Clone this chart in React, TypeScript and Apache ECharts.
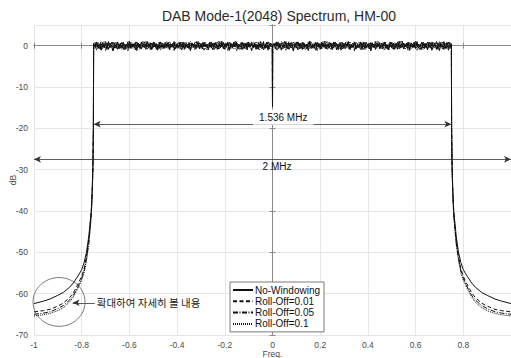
import React, { useEffect, useRef } from "react";
import * as echarts from "echarts";

const titleText = "DAB Mode-1(2048) Spectrum, HM-00";
const seriesNames = ["No-Windowing", "Roll-Off=0.01", "Roll-Off=0.05", "Roll-Off=0.1"];
const bandEdge = 0.75;
const freqStep = 0.00625;
const dcNull = -14.7;
const dcShoulder = 0.1;

// in-band noisy top, left half (from -0.75) and right half (up to +0.75), dB
const topLeft = [
  0.6, -0.4, 0.9, -0.7, 0.3, -1.1, 0.8, -0.2, 0.5, -0.9, 1.0, -0.5, 0.2, -1.3, 0.7, -0.3, 0.9, -0.8, 0.4, -0.6,
  0.8, -1.0, 0.3, -0.4, 1.1, -0.7, 0.5, -0.2, 0.7, -1.2, 0.6, -0.5, 0.9, -0.3, 0.2, -0.9, 1.0, -0.6, 0.4, -0.8,
  0.7, -0.3, 0.5, -1.1, 0.9, -0.4, 0.3, -0.7, 0.8, -0.5, 0.6, -1.0, 0.4, -0.2, 1.0, -0.8, 0.5, -0.6, 0.7, -0.3,
  0.9, -0.9, 0.2, -0.5, 0.8, -1.2, 0.6, -0.4, 0.3, -0.7, 1.0, -0.5, 0.5, -0.8, 0.7, -0.2, 0.4, -1.0, 0.9, -0.6,
  0.6, -0.3, 0.8, -0.9, 0.3, -0.5, 1.1, -0.7, 0.5, -0.4, 0.7, -1.1, 0.4, -0.6, 0.9, -0.2, 0.6, -0.8, 0.3, -0.5,
  0.8, -0.7, 0.5, -1.0, 0.9, -0.3, 0.4, -0.6, 0.7, -0.9, 0.2, -0.4, 1.0, -0.8, 0.6, -0.5, 0.8, -1.1, 0.5, -0.3,
];
const topRight = [
  0.4, -0.8, 0.9, -0.3, 0.6, -1.0, 0.2, -0.5, 1.0, -0.7, 0.5, -0.2, 0.8, -1.1, 0.3, -0.6, 0.9, -0.4, 0.6, -0.9,
  0.7, -0.2, 0.4, -1.2, 1.0, -0.5, 0.3, -0.7, 0.8, -0.3, 0.5, -0.9, 0.6, -0.4, 1.1, -0.8, 0.2, -0.6, 0.7, -1.0,
  0.9, -0.3, 0.5, -0.7, 0.3, -1.1, 0.8, -0.4, 0.6, -0.2, 1.0, -0.9, 0.4, -0.5, 0.7, -0.8, 0.2, -0.3, 0.9, -1.0,
  0.5, -0.6, 0.8, -0.2, 0.3, -1.2, 0.7, -0.5, 1.0, -0.4, 0.4, -0.8, 0.6, -0.3, 0.9, -0.7, 0.2, -1.0, 0.8, -0.5,
  0.6, -0.9, 0.4, -0.2, 1.1, -0.6, 0.5, -0.8, 0.3, -0.4, 0.9, -1.1, 0.7, -0.3, 0.5, -0.7, 1.0, -0.5, 0.2, -0.9,
  0.8, -0.4, 0.6, -1.0, 0.3, -0.6, 0.9, -0.2, 0.5, -0.8, 0.7, -1.2, 0.4, -0.3, 1.0, -0.7, 0.6, -0.5, 0.8, 0.4,
];

// out-of-band skirts: distance beyond band edge (freq units) and level (dB)
const skirtOffset = [0, 0.001, 0.003, 0.006, 0.01, 0.02, 0.03, 0.04, 0.05, 0.06, 0.07, 0.085, 0.1, 0.127, 0.15, 0.183, 0.21, 0.25];
const skirtNoWin = [0, -20, -29, -35, -40, -46, -50, -52.5, -54.2, -55.2, -56.1, -57.4, -58.4, -59.7, -60.4, -61.3, -61.8, -62.4];
const skirtRoll001 = [0, -20, -29, -35.5, -40.5, -47, -51, -54, -55.8, -57, -58.2, -59.8, -60.9, -62.3, -63, -63.8, -64.1, -64.4];
const skirtRoll005 = [0, -20, -29.5, -36, -41, -47.5, -51.5, -54.5, -56.3, -57.6, -58.8, -60.4, -61.5, -62.9, -63.6, -64.4, -64.7, -65.0];
const skirtRoll01 = [0, -20, -30, -36.5, -41.5, -48, -52, -55, -56.7, -58, -59.2, -60.8, -62, -63.4, -64.1, -64.8, -65.1, -65.4];

const xTicks = [-1, -0.8, -0.6, -0.4, -0.2, 0, 0.2, 0.4, 0.6, 0.8, 1];
const yTicks = [-70, -60, -50, -40, -30, -20, -10, 0];

const FONT = "'Liberation Sans', Arial, Helvetica, sans-serif";
const LINE = "#111";

function leftSkirt(levels: number[], includeEdge: boolean) {
  const pts: any[] = [];
  for (let i = levels.length - 1; i >= (includeEdge ? 0 : 1); i--) {
    pts.push([-(bandEdge + skirtOffset[i]), levels[i]]);
  }
  return pts;
}
function rightSkirt(levels: number[], includeEdge: boolean) {
  const pts: any[] = [];
  for (let i = includeEdge ? 0 : 1; i < levels.length; i++) {
    pts.push([bandEdge + skirtOffset[i], levels[i]]);
  }
  return pts;
}

function bandData(levels: number[], left: number[], right: number[]) {
  const pts: any[] = leftSkirt(levels, false);
  left.forEach((v, i) => pts.push([-bandEdge + i * freqStep, v]));
  pts.push([-0.0008, dcShoulder]);
  pts.push([0, dcNull]);
  pts.push([0.0008, dcShoulder]);
  right.forEach((v, i) => pts.push([(i + 1) * freqStep, v]));
  return pts.concat(rightSkirt(levels, false));
}

export default function App() {
  const ref = useRef<HTMLDivElement>(null);
  useEffect(() => {
    if (!ref.current) return;
    const chart = echarts.init(ref.current, null, { renderer: "svg" });
    const xMin = xTicks[0], xMax = xTicks[xTicks.length - 1];
    const yMin = yTicks[0], yMax = 5;
    const axisCommon = {
      axisLine: { show: true, lineStyle: { color: "#8a8a8a", width: 1 } },
      axisTick: { show: true, inside: true, length: 3, lineStyle: { color: "#8a8a8a" } },
    };
    const mkStyle = (type: any) => ({ color: LINE, width: 1, type });
    const revL = topLeft.slice().reverse();
    const revR = topRight.slice().reverse();
    chart.setOption({
      animation: false,
      backgroundColor: "#fff",
      title: {
        text: titleText,
        left: 274,
        textAlign: "center",
        top: 4,
        textStyle: { fontFamily: FONT, fontSize: 14, fontWeight: "normal", color: "#2b2b2b" },
      },
      legend: {
        orient: "vertical",
        left: 230,
        top: 282,
        padding: [3, 4, 3, 2],
        itemGap: 1.3,
        itemWidth: 20,
        itemHeight: 10,
        borderColor: "#7a7a7a",
        borderWidth: 1,
        backgroundColor: "#fff",
        itemStyle: { opacity: 0, borderWidth: 0 },
        textStyle: { fontFamily: FONT, fontSize: 10, color: "#111", padding: [0, 0, 0, -3] },
        data: seriesNames,
      },
      grid: { left: 34, right: 0, top: 25, bottom: 23, containLabel: false, outerBoundsMode: "none" },
      xAxis: [
        {
          type: "value",
          min: xMin,
          max: xMax,
          interval: 0.2,
          ...axisCommon,
          splitLine: { show: true, lineStyle: { color: "#e6e6e6", width: 1 } },
          axisLabel: {
            fontFamily: FONT,
            fontSize: 8.5,
            color: "#4a4a4a",
            margin: 5,
            showMaxLabel: false,
            formatter: (v: number) => String(Math.round(v * 10) / 10),
          },
          name: "Freq.",
          nameLocation: "middle",
          nameGap: 14,
          nameMoveOverlap: false,
          nameTextStyle: { fontFamily: FONT, fontSize: 8.5, color: "#4a4a4a" },
        },
        {
          type: "value",
          position: "top",
          min: xMin,
          max: xMax,
          interval: 0.2,
          ...axisCommon,
          splitLine: { show: false },
          axisLabel: { show: false },
        },
      ],
      yAxis: [
        {
          type: "value",
          min: yMin,
          max: yMax,
          interval: 10,
          ...axisCommon,
          splitLine: { show: true, lineStyle: { color: "#e6e6e6", width: 1 } },
          axisLabel: {
            fontFamily: FONT,
            fontSize: 8.5,
            color: "#4a4a4a",
            margin: 6,
            formatter: (v: number) => (v > 0 ? "" : String(v)),
          },
          name: "dB",
          nameLocation: "middle",
          nameGap: 17,
          nameMoveOverlap: false,
          nameTextStyle: { fontFamily: FONT, fontSize: 8.5, color: "#4a4a4a" },
        },
        {
          type: "value",
          position: "right",
          min: yMin,
          max: yMax,
          interval: 10,
          ...axisCommon,
          splitLine: { show: false },
          axisLabel: { show: false },
        },
      ],
      series: [
        {
          name: seriesNames[0],
          type: "line",
          data: bandData(skirtNoWin, topLeft, topRight),
          showSymbol: false,
          symbol: "none",
          lineStyle: mkStyle("solid"),
          itemStyle: { color: LINE },
          z: 5,
          markLine: {
            silent: true,
            animation: false,
            symbolSize: [5, 7],
            lineStyle: { color: "#333", width: 0.8, type: "solid" },
            label: { show: false },
            data: [
              [
                { coord: [-bandEdge, -19], symbol: "arrow" },
                { coord: [bandEdge, -19], symbol: "arrow" },
              ],
              [
                { coord: [xMin, -27.5], symbol: "arrow" },
                { coord: [xMax, -27.5], symbol: "arrow" },
              ],
              [
                { coord: [-0.745, -62.2], symbol: "none" },
                { coord: [-0.838, -62.2], symbol: "arrow" },
              ],
            ],
          },
        },
        {
          name: seriesNames[1],
          type: "line",
          data: bandData(skirtRoll001, revR, revL),
          showSymbol: false,
          symbol: "none",
          lineStyle: mkStyle([4, 2.5]),
          itemStyle: { color: LINE },
        },
        {
          name: seriesNames[2],
          type: "line",
          data: bandData(skirtRoll005, topRight, topLeft),
          showSymbol: false,
          symbol: "none",
          lineStyle: mkStyle([5, 1.5, 1, 1.5]),
          itemStyle: { color: LINE },
        },
        {
          name: seriesNames[3],
          type: "line",
          data: bandData(skirtRoll01, revL, revR),
          showSymbol: false,
          symbol: "none",
          lineStyle: mkStyle([1, 1]),
          itemStyle: { color: LINE },
        },
      ],
    });

    const px = (x: number, y: number) => chart.convertToPixel({ gridIndex: 0 }, [x, y]) as number[];
    const c = px(-0.895, -62);
    const rx = px(-0.895 + 0.109, -62)[0] - c[0];
    const ry = px(-0.895, -62 + 5.9)[1] - c[1];
    const t1 = px(0.045, -17.3);
    const t2 = px(0.019, -29.3);
    const t3 = px(-0.737, -62.2);
    chart.setOption({
      graphic: [
        {
          type: "ellipse",
          shape: { cx: c[0], cy: c[1], rx: rx, ry: Math.abs(ry) },
          style: { fill: "none", stroke: "#555", lineWidth: 0.8 },
          z: 100,
          silent: true,
        },
        {
          type: "text",
          x: t1[0],
          y: t1[1],
          z: 100,
          silent: true,
          style: {
            text: "1.536 MHz",
            fontFamily: FONT,
            fontSize: 10,
            fill: "#111",
            align: "center",
            verticalAlign: "middle",
            backgroundColor: "#fff",
            padding: [1, 6, 4, 6],
          },
        },
        {
          type: "text",
          x: t2[0],
          y: t2[1],
          z: 100,
          silent: true,
          style: {
            text: "2 MHz",
            fontFamily: FONT,
            fontSize: 10,
            fill: "#111",
            align: "center",
            verticalAlign: "middle",
          },
        },
        {
          type: "text",
          x: t3[0],
          y: t3[1],
          z: 100,
          silent: true,
          style: {
            text: "확대하여 자세히 볼 내용",
            fontFamily: "'Noto Sans CJK KR', sans-serif",
            fontSize: 10.5,
            fill: "#222",
            align: "left",
            verticalAlign: "middle",
          },
        },
      ],
    });
    return () => chart.dispose();
  }, []);
  return (
    <div
      ref={ref}
      style={{ position: "fixed", left: 0, top: 0, width: 511, height: 358, background: "#fff" }}
    />
  );
}
